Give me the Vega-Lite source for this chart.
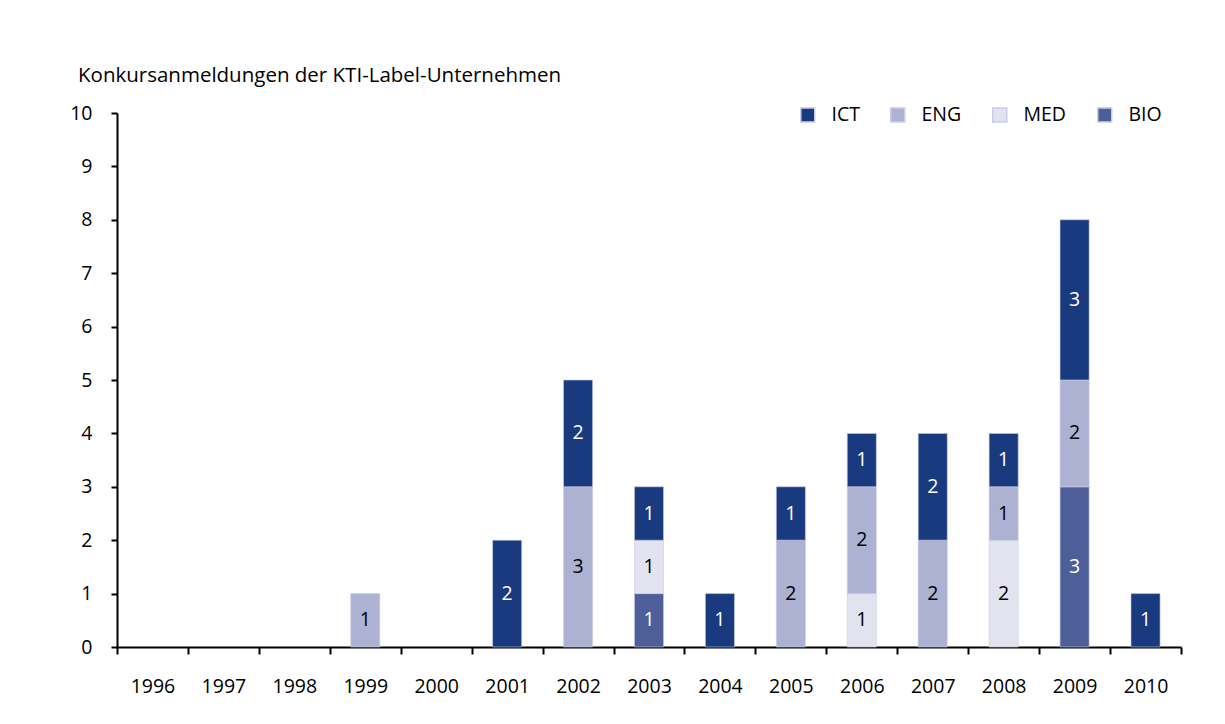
{
  "$schema": "https://vega.github.io/schema/vega-lite/v6.json",
  "width": 1064,
  "height": 534,
  "autosize": {"type": "none"},
  "padding": {"left": 117, "top": 113, "right": 44, "bottom": 77},
  "background": "white",
  "config": {
    "view": {"stroke": null},
    "font": "Open Sans",
    "axis": {"labelFont": "Open Sans", "labelFontSize": 19.5, "labelColor": "black", "domainColor": "black", "tickColor": "black", "domainWidth": 2, "tickWidth": 2, "grid": false, "title": null}
  },
  "title": {
    "text": "Konkursanmeldungen der KTI-Label-Unternehmen",
    "anchor": "start",
    "frame": "group",
    "dx": -39,
    "offset": 17,
    "fontSize": 20.5,
    "fontWeight": "normal",
    "font": "Open Sans",
    "color": "black"
  },
  "data": {
    "values": [
      {"year": "1999", "cat": "ENG", "n": 1},
      {"year": "2001", "cat": "ICT", "n": 2},
      {"year": "2002", "cat": "ENG", "n": 3},
      {"year": "2002", "cat": "ICT", "n": 2},
      {"year": "2003", "cat": "BIO", "n": 1},
      {"year": "2003", "cat": "MED", "n": 1},
      {"year": "2003", "cat": "ICT", "n": 1},
      {"year": "2004", "cat": "ICT", "n": 1},
      {"year": "2005", "cat": "ENG", "n": 2},
      {"year": "2005", "cat": "ICT", "n": 1},
      {"year": "2006", "cat": "MED", "n": 1},
      {"year": "2006", "cat": "ENG", "n": 2},
      {"year": "2006", "cat": "ICT", "n": 1},
      {"year": "2007", "cat": "ENG", "n": 2},
      {"year": "2007", "cat": "ICT", "n": 2},
      {"year": "2008", "cat": "MED", "n": 2},
      {"year": "2008", "cat": "ENG", "n": 1},
      {"year": "2008", "cat": "ICT", "n": 1},
      {"year": "2009", "cat": "BIO", "n": 3},
      {"year": "2009", "cat": "ENG", "n": 2},
      {"year": "2009", "cat": "ICT", "n": 3},
      {"year": "2010", "cat": "ICT", "n": 1}
    ]
  },
  "transform": [
    {"calculate": "indexof(['BIO','MED','ENG','ICT'], datum.cat)", "as": "ord"},
    {"stack": "n", "groupby": ["year"], "sort": [{"field": "ord", "order": "ascending"}], "as": ["y0", "y1"]},
    {"calculate": "(datum.y0 + datum.y1) / 2", "as": "ymid"}
  ],
  "encoding": {
    "x": {
      "field": "year",
      "type": "nominal",
      "scale": {"domain": ["1996","1997","1998","1999","2000","2001","2002","2003","2004","2005","2006","2007","2008","2009","2010"], "paddingInner": 0, "paddingOuter": 0},
      "axis": {"labelAngle": 0, "tickBand": "extent", "tickSize": 7, "labelPadding": 23}
    }
  },
  "layer": [
    {
      "mark": {"type": "bar", "width": {"band": 0.41}, "stroke": "#c9cde6", "strokeWidth": 0.6},
      "encoding": {
        "y": {"field": "y0", "type": "quantitative", "scale": {"domain": [0, 10], "nice": false}, "axis": {"values": [0,1,2,3,4,5,6,7,8,9,10], "tickSize": 6, "labelPadding": 19}},
        "y2": {"field": "y1"},
        "color": {
          "field": "cat",
          "type": "nominal",
          "scale": {"domain": ["ICT", "ENG", "MED", "BIO"], "range": ["#1a3a7f", "#adb2d3", "#e2e3ef", "#4e5e99"]},
          "legend": {
            "title": null,
            "orient": "none",
            "direction": "horizontal",
            "legendX": 681,
            "legendY": -8,
            "symbolType": "square",
            "symbolSize": 196,
            "labelFontSize": 19.5,
            "labelFont": "Open Sans",
            "labelColor": "black",
            "labelOffset": 14,
            "columnPadding": 27
          }
        }
      }
    },
    {
      "mark": {"type": "text", "fontSize": 19.5, "font": "Open Sans", "baseline": "middle"},
      "encoding": {
        "y": {"field": "ymid", "type": "quantitative"},
        "text": {"field": "n", "type": "quantitative"},
        "color": {
          "condition": {"test": "datum.cat === 'ICT' || datum.cat === 'BIO'", "value": "white"},
          "value": "black"
        }
      }
    }
  ]
}
